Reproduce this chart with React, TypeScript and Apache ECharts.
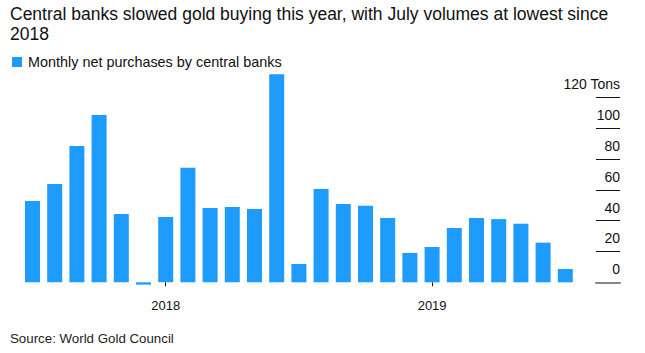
import React, { useEffect, useRef } from "react";
import * as echarts from "echarts";

const months = [
  "2017-07", "2017-08", "2017-09", "2017-10", "2017-11", "2017-12",
  "2018-01", "2018-02", "2018-03", "2018-04", "2018-05", "2018-06",
  "2018-07", "2018-08", "2018-09", "2018-10", "2018-11", "2018-12",
  "2019-01", "2019-02", "2019-03", "2019-04", "2019-05", "2019-06", "2019-07",
];
const purchases = [
  52.7, 63.8, 88.4, 108.5, 44.3, -1.5, 42.4, 74.3, 48.2, 48.8, 47.5, 135,
  11.9, 60.5, 50.8, 49.7, 41.7, 19, 22.9, 35.2, 41.7, 41, 38, 25.7, 8.6,
];
const yTicks = [0, 20, 40, 60, 80, 100, 120];
const titleText =
  "Central banks slowed gold buying this year, with July volumes at lowest since\n2018";
const seriesName = "Monthly net purchases by central banks";
const sourceText = "Source: World Gold Council";

const FONT = "'Liberation Sans', Arial, Helvetica, sans-serif";
const BLUE = "#1e9cfd";

export default function App() {
  const ref = useRef<HTMLDivElement>(null);
  useEffect(() => {
    document.body.style.margin = "0";
    if (!ref.current) return;
    const chart = echarts.init(ref.current, undefined, { renderer: "svg" });
    const isJan = (_i: number, v: string) => v.endsWith("-01");
    const yMin = yTicks[0];
    const yMax = yTicks[yTicks.length - 1];
    const yInt = yTicks[1] - yTicks[0];
    chart.setOption({
      animation: false,
      textStyle: { fontFamily: FONT },
      title: {
        text: titleText,
        left: 10,
        top: 4,
        padding: 0,
        textStyle: {
          fontFamily: FONT,
          fontSize: 17.5,
          fontWeight: "normal",
          lineHeight: 20,
          color: "#111",
        },
      },
      legend: {
        left: 12,
        top: 55,
        padding: 0,
        icon: "rect",
        itemWidth: 10,
        itemHeight: 10,
        itemGap: 6,
        selectedMode: false,
        textStyle: { fontFamily: FONT, fontSize: 14.4, color: "#111", padding: [0, 0, 0, 1] },
        data: [seriesName],
      },
      graphic: [
        {
          type: "text",
          left: 10,
          top: 332,
          style: { text: sourceText, fontFamily: FONT, fontSize: 13.3, fill: "#222" },
        },
      ],
      grid: [
        { left: 21.4, width: 555, top: 97.3, height: 185 },
        { left: 596, width: 24, top: 97.3, height: 185 },
      ],
      xAxis: [
        {
          type: "category",
          gridIndex: 0,
          data: months,
          offset: 5,
          axisLine: { show: false },
          axisTick: {
            show: true,
            interval: isJan,
            alignWithLabel: true,
            length: 4,
            lineStyle: { color: "#111", width: 1 },
          },
          axisLabel: {
            interval: isJan,
            margin: 12,
            fontSize: 13,
            color: "#111",
            fontFamily: FONT,
            formatter: (v: string) => v.slice(0, 4),
          },
        },
        {
          type: "category",
          gridIndex: 1,
          data: ["a"],
          axisLine: { show: true, lineStyle: { color: "#888", width: 2 } },
          axisTick: { show: false },
          axisLabel: { show: false },
        },
      ],
      yAxis: [
        {
          type: "value",
          gridIndex: 0,
          min: yMin,
          max: yMax,
          interval: yInt,
          show: false,
          splitLine: { show: false },
        },
        {
          type: "value",
          gridIndex: 1,
          position: "right",
          min: yMin,
          max: yMax,
          interval: yInt,
          axisLine: { show: false },
          axisTick: { show: false },
          splitLine: {
            show: true,
            showMinLine: false,
            lineStyle: { color: "#111", width: 1 },
          },
          axisLabel: {
            inside: true,
            margin: 0,
            verticalAlign: "bottom",
            padding: [0, 0, 6, 0],
            fontSize: 14,
            color: "#111",
            fontFamily: FONT,
            formatter: (v: number) => (v === yMax ? `${v} Tons` : `${v}`),
          },
        },
      ],
      series: [
        {
          name: seriesName,
          type: "bar",
          xAxisIndex: 0,
          yAxisIndex: 0,
          data: purchases,
          barWidth: 15,
          clip: false,
          itemStyle: { color: BLUE },
        },
      ],
    });
    return () => chart.dispose();
  }, []);
  return <div ref={ref} style={{ width: 645, height: 353 }} />;
}
